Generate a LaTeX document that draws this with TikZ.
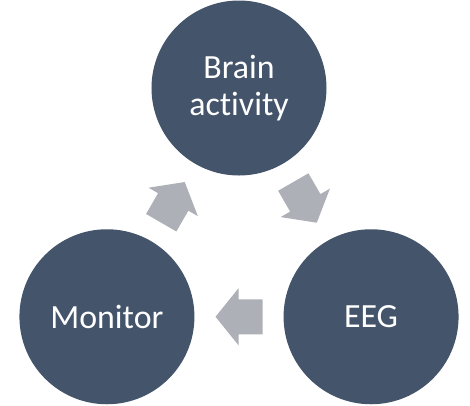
\documentclass[tikz,border=0pt]{standalone}
\usepackage{fontspec}
\setmainfont[Ligatures=NoCommon]{Carlito}
\definecolor{stagefill}{HTML}{44546A}
\definecolor{arrowfill}{HTML}{ADB1B7}
\tikzset{
  stage/.style={circle, fill=stagefill, text=white, minimum size=175bp,
    inner sep=0pt, align=center, font=\fontsize{34}{37.5}\selectfont},
  cyclearrow/.pic={
    \fill[arrowfill] (-23.5,-17.5) -- (0.5,-17.5) -- (0.5,-28.5) -- (23.5,0)
      -- (0.5,28.5) -- (0.5,17.5) -- (-23.5,17.5) -- cycle;
  }
}
\begin{document}
\begin{tikzpicture}[x=1bp,y=1bp]
      \useasboundingbox (-239,-164.5) rectangle (231,240.5);
      \draw
        (90:152.5) node[stage] (brain){Brain\\activity}
        (330:152.5) node[stage] (eeg){EEG}
        (210:152.5) node[stage] (monitor){Monitor};
      \begin{scope}
        \path (brain) -- (eeg) pic[midway, sloped] {cyclearrow};
        \path (eeg) -- (monitor) pic[midway, sloped, rotate=180] {cyclearrow};
        \path (monitor) -- (brain) pic[midway, sloped] {cyclearrow};
      \end{scope}
    \end{tikzpicture}
\end{document}
